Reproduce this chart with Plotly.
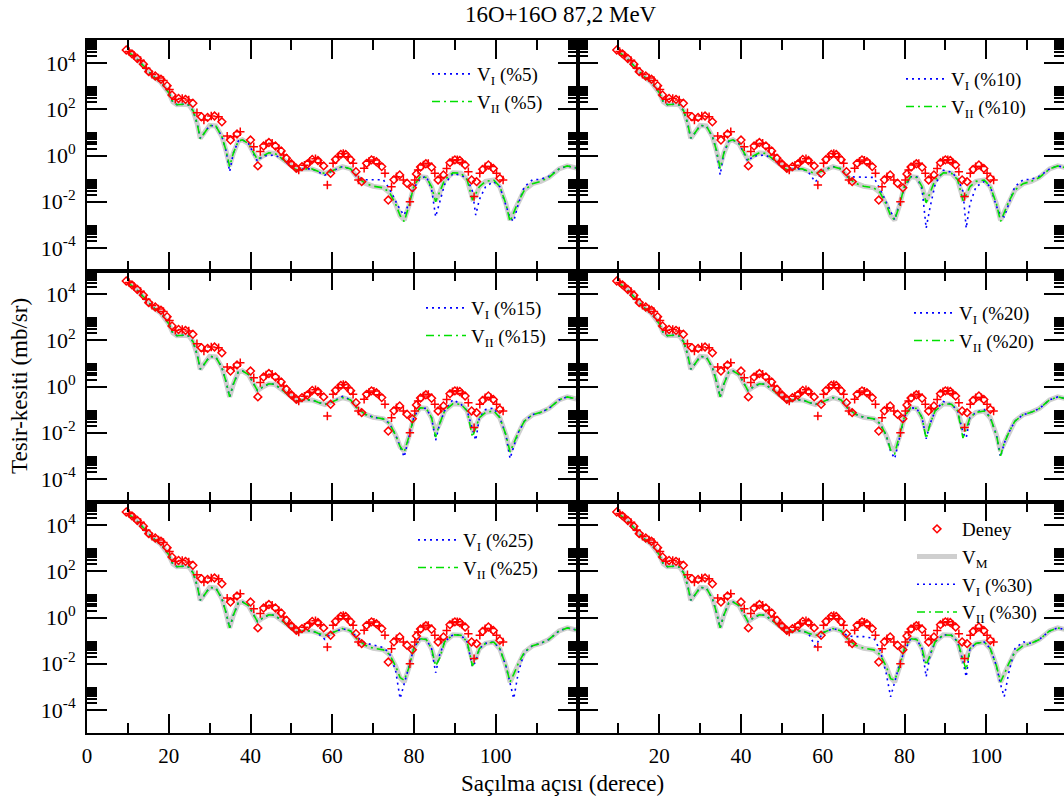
import plotly.graph_objects as go

# ---------------- data ----------------
# theory curves: scattering angle grid (degrees)
ANG = [10, 12, 14, 16, 18, 20, 21, 22, 24, 25, 26, 27,
       27.7, 28.5, 30, 31.5, 33, 34, 34.9, 35.8, 37, 38, 39.5, 40.8,
       41.7, 43, 44.5, 46, 48, 50, 51.5, 53, 55, 56.5, 58.2, 60,
       62.5, 64.5, 66, 68, 70, 72.5, 74, 75.5, 76.6, 77.6, 78.8, 80,
       81.5, 83, 84.3, 85.3, 86.3, 87.5, 89.5, 91.5, 93, 94.3, 95.1, 96,
       97.5, 99.5, 101, 102.5, 103.5, 104.4, 105.5, 107, 109, 111, 113, 115.5,
       117.5, 120]

# log10 of cross-section (mb/sr)
LOG_VM = [4.50, 4.22, 3.85, 3.45, 3.18, 2.72, 2.32, 2.20, 2.22, 2.18, 1.92, 1.35,
          0.75, 0.92, 1.30, 1.28, 0.82, 0.22, -0.45, 0.10, 0.62, 0.68, 0.52, 0.10,
          -0.18, -0.02, 0.12, 0.09, -0.18, -0.50, -0.64, -0.58, -0.58, -0.68, -0.78, -0.66,
          -0.48, -0.58, -0.92, -1.20, -1.33, -1.40, -1.60, -2.10, -2.60, -2.80, -2.15, -1.30,
          -0.92, -0.95, -1.35, -1.95, -1.60, -1.05, -0.75, -0.77, -1.05, -1.85, -1.75, -1.35,
          -1.12, -1.06, -1.35, -2.10, -2.80, -2.45, -2.00, -1.50, -1.22, -1.12, -0.95, -0.58,
          -0.45, -0.55]

LOG_VI_05 = [4.50, 4.22, 3.85, 3.45, 3.18, 2.72, 2.32, 2.20, 2.22, 2.18, 1.92, 1.35,
             0.75, 0.92, 1.30, 1.28, 0.82, 0.22, -0.70, 0.10, 0.62, 0.68, 0.52, 0.10,
             -0.25, -0.02, 0.00, 0.02, -0.18, -0.50, -0.64, -0.58, -0.58, -0.72, -0.85, -0.66,
             -0.48, -0.58, -0.92, -1.05, -1.05, -1.05, -1.45, -2.00, -2.35, -2.58, -2.05, -1.40,
             -1.00, -0.90, -1.45, -2.65, -2.05, -1.25, -0.78, -0.85, -1.00, -1.55, -2.58, -1.90,
             -1.35, -1.13, -1.35, -2.20, -2.70, -2.85, -2.10, -1.35, -1.05, -1.03, -0.90, -0.58,
             -0.45, -0.55]
LOG_VII_05 = [4.50, 4.22, 3.85, 3.45, 3.18, 2.72, 2.32, 2.20, 2.22, 2.18, 1.92, 1.35,
              0.72, 0.92, 1.30, 1.28, 0.82, 0.22, -0.48, 0.10, 0.62, 0.68, 0.52, 0.10,
              -0.18, -0.02, 0.12, 0.09, -0.18, -0.50, -0.64, -0.58, -0.58, -0.68, -0.78, -0.66,
              -0.48, -0.58, -0.92, -1.20, -1.33, -1.40, -1.60, -2.10, -2.60, -2.86, -2.15, -1.30,
              -0.92, -0.95, -1.35, -2.00, -1.60, -1.05, -0.75, -0.77, -1.05, -1.93, -1.65, -1.35,
              -1.12, -1.06, -1.35, -2.10, -2.86, -2.45, -2.00, -1.50, -1.22, -1.12, -0.95, -0.58,
              -0.45, -0.55]

LOG_VI_10 = [4.50, 4.22, 3.85, 3.45, 3.18, 2.72, 2.32, 2.20, 2.22, 2.18, 1.92, 1.35,
             0.75, 0.92, 1.30, 1.28, 0.82, 0.22, -0.84, 0.10, 0.62, 0.68, 0.52, 0.10,
             -0.25, -0.02, 0.00, 0.02, -0.18, -0.50, -0.64, -0.58, -0.58, -0.72, -1.15, -0.66,
             -0.48, -0.58, -0.92, -0.92, -0.92, -0.95, -1.45, -2.00, -2.40, -2.79, -2.05, -1.40,
             -0.92, -0.92, -1.45, -3.15, -2.20, -1.25, -0.64, -0.72, -1.00, -1.55, -3.15, -2.10,
             -1.35, -1.13, -1.35, -2.20, -2.60, -2.65, -2.10, -1.35, -1.05, -1.03, -0.90, -0.58,
             -0.45, -0.55]
LOG_VII_10 = [4.50, 4.22, 3.85, 3.45, 3.18, 2.72, 2.32, 2.20, 2.22, 2.18, 1.92, 1.35,
              0.75, 0.92, 1.30, 1.28, 0.82, 0.22, -0.56, 0.10, 0.62, 0.68, 0.52, 0.10,
              -0.18, -0.02, 0.12, 0.09, -0.18, -0.50, -0.64, -0.58, -0.58, -0.68, -0.78, -0.66,
              -0.48, -0.58, -0.92, -1.20, -1.33, -1.40, -1.60, -2.10, -2.60, -2.79, -2.15, -1.30,
              -0.92, -0.95, -1.35, -2.05, -1.60, -1.05, -0.75, -0.77, -1.05, -1.95, -1.70, -1.35,
              -1.12, -1.06, -1.35, -2.10, -2.86, -2.45, -2.00, -1.50, -1.22, -1.12, -0.95, -0.58,
              -0.45, -0.55]

LOG_VI_15 = [4.50, 4.22, 3.85, 3.45, 3.18, 2.72, 2.32, 2.20, 2.22, 2.18, 1.92, 1.35,
             0.75, 0.92, 1.30, 1.28, 0.82, 0.22, -0.45, 0.10, 0.62, 0.68, 0.52, 0.10,
             -0.18, -0.02, 0.12, 0.09, -0.18, -0.50, -0.64, -0.58, -0.58, -0.68, -0.78, -0.66,
             -0.43, -0.58, -0.92, -1.20, -1.33, -1.40, -1.60, -2.10, -2.60, -3.05, -2.15, -1.30,
             -0.92, -0.95, -1.35, -2.33, -1.60, -1.05, -0.57, -0.77, -1.05, -1.90, -2.33, -1.35,
             -1.00, -0.93, -1.35, -2.10, -3.12, -2.60, -2.00, -1.50, -1.22, -1.12, -0.95, -0.58,
             -0.45, -0.55]
LOG_VII_15 = [4.50, 4.22, 3.85, 3.45, 3.18, 2.72, 2.32, 2.20, 2.22, 2.18, 1.92, 1.35,
              0.75, 0.92, 1.30, 1.28, 0.82, 0.22, -0.45, 0.10, 0.62, 0.68, 0.52, 0.10,
              -0.18, -0.02, 0.12, 0.09, -0.18, -0.50, -0.64, -0.58, -0.58, -0.68, -0.78, -0.66,
              -0.48, -0.58, -0.92, -1.20, -1.33, -1.40, -1.60, -2.10, -2.60, -2.84, -2.15, -1.30,
              -0.92, -0.95, -1.35, -2.19, -1.60, -1.05, -0.75, -0.77, -1.05, -2.19, -1.80, -1.35,
              -1.12, -1.06, -1.35, -2.10, -2.84, -2.45, -2.00, -1.50, -1.22, -1.12, -0.95, -0.58,
              -0.45, -0.55]

LOG_VI_20 = [4.50, 4.22, 3.85, 3.45, 3.18, 2.72, 2.32, 2.20, 2.22, 2.18, 1.92, 1.35,
             0.75, 0.92, 1.30, 1.28, 0.82, 0.22, -0.45, 0.10, 0.62, 0.68, 0.52, 0.10,
             -0.18, -0.02, 0.12, 0.09, -0.18, -0.50, -0.64, -0.58, -0.58, -0.68, -0.78, -0.66,
             -0.48, -0.58, -0.92, -1.20, -1.33, -1.40, -1.60, -2.10, -2.80, -3.12, -2.15, -1.30,
             -0.92, -0.95, -1.35, -2.26, -1.60, -1.05, -0.65, -0.77, -1.05, -2.00, -2.23, -1.35,
             -1.12, -1.00, -1.35, -2.10, -3.05, -2.45, -2.00, -1.50, -1.22, -1.12, -0.95, -0.58,
             -0.45, -0.55]
LOG_VII_20 = [4.50, 4.22, 3.85, 3.45, 3.18, 2.72, 2.32, 2.20, 2.22, 2.18, 1.92, 1.35,
              0.75, 0.92, 1.30, 1.28, 0.82, 0.22, -0.45, 0.10, 0.62, 0.68, 0.52, 0.10,
              -0.18, -0.02, 0.12, 0.09, -0.18, -0.50, -0.64, -0.58, -0.58, -0.68, -0.78, -0.66,
              -0.48, -0.58, -0.92, -1.20, -1.33, -1.40, -1.60, -2.10, -2.75, -2.91, -2.15, -1.30,
              -0.92, -0.95, -1.35, -2.26, -1.60, -1.05, -0.75, -0.77, -1.05, -2.23, -1.85, -1.35,
              -1.12, -1.06, -1.35, -2.10, -3.00, -2.45, -2.00, -1.50, -1.22, -1.12, -0.95, -0.58,
              -0.45, -0.55]

LOG_VI_25 = [4.50, 4.22, 3.85, 3.45, 3.18, 2.72, 2.32, 2.20, 2.22, 2.18, 1.92, 1.35,
             0.75, 0.92, 1.30, 1.28, 0.82, 0.22, -0.45, 0.10, 0.62, 0.68, 0.52, 0.10,
             -0.18, -0.02, 0.12, 0.09, -0.18, -0.50, -0.64, -0.58, -0.58, -0.68, -0.95, -0.66,
             -0.48, -0.58, -0.85, -1.10, -1.20, -1.30, -1.55, -2.30, -3.51, -2.90, -2.10, -1.30,
             -0.92, -0.95, -1.35, -2.39, -1.60, -1.05, -0.75, -0.77, -1.05, -2.14, -1.90, -1.35,
             -1.12, -1.06, -1.35, -2.10, -2.90, -3.51, -2.40, -1.50, -1.22, -1.12, -0.95, -0.58,
             -0.45, -0.55]
LOG_VII_25 = [4.50, 4.22, 3.85, 3.45, 3.18, 2.72, 2.32, 2.20, 2.22, 2.18, 1.92, 1.35,
              0.75, 0.92, 1.30, 1.28, 0.82, 0.22, -0.45, 0.10, 0.62, 0.68, 0.52, 0.10,
              -0.18, -0.02, 0.12, 0.09, -0.18, -0.50, -0.64, -0.58, -0.58, -0.68, -0.78, -0.66,
              -0.48, -0.58, -0.92, -1.20, -1.33, -1.40, -1.60, -2.10, -2.60, -2.72, -2.15, -1.30,
              -0.92, -0.95, -1.35, -2.10, -1.75, -1.05, -0.75, -0.77, -1.05, -2.10, -1.80, -1.35,
              -1.12, -1.06, -1.35, -2.10, -2.79, -2.45, -2.00, -1.50, -1.22, -1.12, -0.95, -0.58,
              -0.45, -0.55]

LOG_VI_30 = [4.50, 4.22, 3.85, 3.45, 3.18, 2.72, 2.32, 2.20, 2.22, 2.18, 1.92, 1.35,
             0.75, 0.92, 1.30, 1.28, 0.82, 0.22, -0.45, 0.10, 0.62, 0.68, 0.52, 0.10,
             -0.18, -0.02, 0.12, 0.09, -0.18, -0.50, -0.64, -0.58, -0.58, -0.68, -1.26, -0.66,
             -0.48, -0.58, -0.80, -0.83, -0.83, -0.90, -1.40, -2.40, -3.43, -2.80, -2.00, -1.45,
             -0.92, -0.95, -1.35, -2.57, -1.60, -1.05, -0.75, -0.77, -1.05, -1.90, -2.57, -1.35,
             -1.12, -1.06, -1.35, -2.10, -2.90, -3.43, -2.40, -1.35, -1.05, -1.12, -0.95, -0.58,
             -0.45, -0.55]
LOG_VII_30 = [4.50, 4.22, 3.85, 3.45, 3.18, 2.72, 2.32, 2.20, 2.22, 2.18, 1.92, 1.35,
              0.75, 0.92, 1.30, 1.28, 0.82, 0.22, -0.45, 0.10, 0.62, 0.68, 0.52, 0.10,
              -0.18, -0.02, 0.12, 0.09, -0.18, -0.50, -0.64, -0.58, -0.58, -0.68, -0.78, -0.66,
              -0.48, -0.58, -0.92, -1.20, -1.33, -1.40, -1.60, -2.10, -2.65, -2.71, -2.15, -1.30,
              -0.92, -0.95, -1.35, -2.07, -1.60, -1.05, -0.75, -0.77, -1.05, -1.85, -2.28, -1.35,
              -1.12, -1.06, -1.35, -2.10, -2.79, -2.45, -2.00, -1.50, -1.22, -1.12, -0.95, -0.58,
              -0.45, -0.55]

# experimental data (Deney)
DENEY_ANG = [9.6, 10.3, 11.0, 11.5, 12.3, 13.1, 13.8, 14.5, 15.1, 15.9, 16.7, 17.5,
             18.1, 18.7, 19.6, 20.2, 20.8, 21.6, 22.4, 23.3, 24.1, 24.9, 25.9, 26.9,
             28.0, 28.6, 29.5, 30.4, 31.2, 32.2, 33.0, 34.3, 35.1, 35.9, 36.7, 37.5,
             40.0, 40.8, 41.8, 42.4, 43.2, 43.8, 44.5, 45.3, 46.1, 46.9, 47.5, 48.1,
             48.8, 49.4, 50.0, 50.6, 51.2, 51.8, 52.6, 53.2, 53.9, 54.5, 55.1, 55.9,
             56.5, 57.1, 57.9, 58.8, 59.6, 60.2, 60.8, 61.5, 62.1, 62.7, 63.3, 63.9,
             64.5, 65.1, 65.8, 66.4, 67.2, 67.8, 68.4, 69.0, 69.6, 70.2, 70.8, 71.5,
             72.1, 72.9, 73.7, 74.5, 75.1, 75.7, 76.5, 77.4, 78.3, 79.0, 79.6, 80.2,
             80.6, 81.0, 81.6, 82.3, 82.9, 83.5, 84.3, 85.1, 85.9, 86.5, 87.2, 88.0,
             88.8, 89.4, 90.0, 90.6, 91.2, 91.8, 92.5, 93.3, 94.1, 94.7, 95.3, 96.1,
             96.8, 97.4, 98.2, 98.8, 99.4, 100.2, 101.0, 101.8]
DENEY_LOG = [4.57, 4.50, 4.40, 4.33, 4.20, 4.12, 3.95, 3.78, 3.63, 3.51, 3.44, 3.36,
             3.30, 3.25, 3.02, 2.86, 2.62, 2.43, 2.47, 2.47, 2.43, 2.40, 2.26, 1.85,
             1.68, 1.54, 1.65, 1.71, 1.71, 1.68, 1.46, 0.84, 0.67, 0.82, 0.93, 1.03,
             0.67, 0.38, -0.45, 0.17, 0.41, 0.50, 0.56, 0.53, 0.41, 0.31, 0.20, 0.02,
             -0.12, -0.27, -0.36, -0.45, -0.55, -0.63, -0.48, -0.42, -0.37, -0.25, -0.17, -0.14,
             -0.22, -0.31, -0.45, -1.28, -0.77, -0.34, -0.17, -0.05, 0.05, 0.09, 0.04, -0.05,
             -0.18, -0.34, -0.70, -1.06, -1.13, -0.55, -0.34, -0.25, -0.19, -0.20, -0.27, -0.36,
             -0.48, -0.77, -1.93, -1.35, -1.05, -0.92, -0.84, -1.06, -1.20, -2.00, -1.40, -1.06,
             -0.80, -0.63, -0.50, -0.41, -0.36, -0.34, -0.51, -0.77, -1.06, -0.95, -0.84, -0.56,
             -0.31, -0.23, -0.19, -0.18, -0.22, -0.30, -0.41, -0.70, -1.06, -1.78, -1.13, -0.77,
             -0.60, -0.48, -0.41, -0.48, -0.56, -0.77, -0.99, -1.06]

PERCENTS = ["%5", "%10", "%15", "%20", "%25", "%30"]
VI_LIST = [LOG_VI_05, LOG_VI_10, LOG_VI_15, LOG_VI_20, LOG_VI_25, LOG_VI_30]
VII_LIST = [LOG_VII_05, LOG_VII_10, LOG_VII_15, LOG_VII_20, LOG_VII_25, LOG_VII_30]

X_MAJOR = [0, 20, 40, 60, 80, 100, 120]
X_MINOR = [10, 30, 50, 70, 90, 110]
Y_MAJOR_EXP = [-4, -2, 0, 2, 4]

# ---------------- layout geometry (window pixels) ----------------
W, H = 1064, 800
ML, MR, MT, MB = 87, 0, 40, 67
PW, PH = W - ML - MR, H - MT - MB
SPLIT_PX = 577.5                 # boundary between the two columns
XSCALE = (SPLIT_PX - ML) / 120.0
XRIGHT_MAX = (W - MR - SPLIT_PX) / XSCALE
FONT = "Liberation Serif"

def pow10(v):
    return [10 ** a for a in v]

def paper_x(px):
    return (px - ML) / PW

def paper_y(py):
    return (H - MB - py) / PH

fig = go.Figure()

col_dom = [[0, (SPLIT_PX - ML) / PW], [(SPLIT_PX - ML) / PW, 1.0]]
row_dom = [[2 / 3, 1.0], [1 / 3, 2 / 3], [0.0, 1 / 3]]

# legend top-left corners (pixels)
legend_pos = [(427, 55), (901, 60), (421, 289), (909, 294), (413, 521), (912, 510)]

symbols = ["diamond-open" if i % 2 == 0 else "cross-thin-open" for i in range(len(DENEY_ANG))]

y_minor = [k * 10.0 ** e for e in Y_MAJOR_EXP for k in range(2, 10)]

for i in range(6):
    r, c = divmod(i, 2)
    n = i + 1
    xa = "x" if n == 1 else f"x{n}"
    ya = "y" if n == 1 else f"y{n}"
    lg = "legend" if n == 1 else f"legend{n}"
    last = (i == 5)

    fig.add_trace(go.Scatter(x=ANG, y=pow10(LOG_VM), mode="lines",
                             line=dict(color="#cfcfcf", width=5),
                             name="V<sub>M</sub>", legend=lg, legendrank=2,
                             showlegend=last, xaxis=xa, yaxis=ya))
    fig.add_trace(go.Scatter(x=ANG, y=pow10(VI_LIST[i]), mode="lines",
                             line=dict(color="#0000ff", width=1.6, dash="2px,4px"),
                             name=f"V<sub>I</sub> ({PERCENTS[i]})", legend=lg, legendrank=3,
                             xaxis=xa, yaxis=ya))
    fig.add_trace(go.Scatter(x=ANG, y=pow10(VII_LIST[i]), mode="lines",
                             line=dict(color="#00e000", width=1.6, dash="8px,4px,2px,4px"),
                             name=f"V<sub>II</sub> ({PERCENTS[i]})", legend=lg, legendrank=4,
                             xaxis=xa, yaxis=ya))
    fig.add_trace(go.Scatter(x=DENEY_ANG, y=pow10(DENEY_LOG), mode="markers",
                             marker=dict(symbol=symbols, size=6, color="#ff0000",
                                         line=dict(color="#ff0000", width=1.5)),
                             name="Deney", legend=lg, legendrank=1,
                             showlegend=last, xaxis=xa, yaxis=ya))

    xmax = 120 if c == 0 else XRIGHT_MAX
    if r == 2:
        xt = [str(v) if v < 120 else "" for v in X_MAJOR]
        if c == 1:
            xt[0] = ""
    else:
        xt = [""] * len(X_MAJOR)
    xkey = "xaxis" if n == 1 else f"xaxis{n}"
    ykey = "yaxis" if n == 1 else f"yaxis{n}"
    fig.update_layout({
        xkey: dict(domain=col_dom[c], range=[0, xmax], anchor=ya,
                   showline=True, linecolor="black", linewidth=2, mirror="allticks",
                   ticks="inside", ticklen=19, tickwidth=2, tickcolor="black",
                   tickmode="array", tickvals=X_MAJOR, ticktext=xt,
                   showticklabels=(r == 2), ticklabelstandoff=3,
                   minor=dict(tickmode="array", tickvals=X_MINOR, ticks="inside",
                              ticklen=10, tickwidth=2, tickcolor="black"),
                   showgrid=False, zeroline=False,
                   tickfont=dict(family=FONT, size=21, color="black")),
        ykey: dict(domain=row_dom[r], type="log", range=[-5, 5], anchor=xa,
                   showline=True, linecolor="black", linewidth=2, mirror="allticks",
                   ticks="inside", ticklen=20, tickwidth=2, tickcolor="black",
                   tickmode="array", tickvals=[10.0 ** e for e in Y_MAJOR_EXP],
                   ticktext=[f"10<sup>{e}</sup>" for e in Y_MAJOR_EXP],
                   showticklabels=(c == 0), ticklabelstandoff=5,
                   minor=dict(tickmode="array", tickvals=y_minor, ticks="inside",
                              ticklen=10, tickwidth=1.5, tickcolor="black"),
                   showgrid=False, zeroline=False,
                   tickfont=dict(family=FONT, size=22, color="black")),
        lg: dict(x=paper_x(legend_pos[i][0]), y=paper_y(legend_pos[i][1]),
                 xref="paper", yref="paper", xanchor="left", yanchor="top",
                 bgcolor="rgba(0,0,0,0)", borderwidth=0, itemwidth=40,
                 tracegroupgap=0, font=dict(family=FONT, size=19, color="black")),
    })

fig.update_layout(
    width=W, height=H,
    margin=dict(l=ML, r=MR, t=MT, b=MB, pad=0, autoexpand=False),
    paper_bgcolor="white", plot_bgcolor="white",
    annotations=[
        dict(text="16O+16O 87,2 MeV", x=paper_x(561), y=paper_y(14),
             xref="paper", yref="paper", showarrow=False,
             xanchor="center", yanchor="middle",
             font=dict(family=FONT, size=23, color="black")),
        dict(text="Saçılma açısı (derece)", x=paper_x(562), y=paper_y(783),
             xref="paper", yref="paper", showarrow=False,
             xanchor="center", yanchor="middle",
             font=dict(family=FONT, size=23, color="black")),
        dict(text="Tesir-kesiti (mb/sr)", x=paper_x(19), y=paper_y(386),
             xref="paper", yref="paper", showarrow=False, textangle=-90,
             xanchor="center", yanchor="middle",
             font=dict(family=FONT, size=23, color="black")),
    ],
)

fig.write_html("out.html", config={"displayModeBar": False},
               post_script="document.body.style.margin='0px';")
